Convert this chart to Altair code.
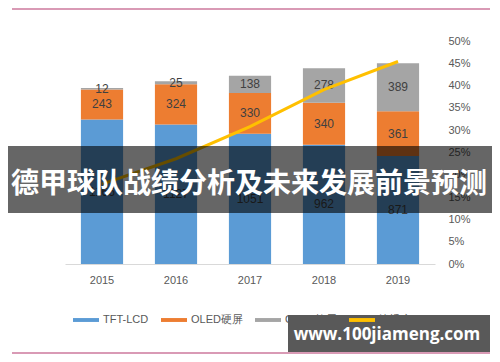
import altair as alt
import pandas as pd

years = ["2015", "2016", "2017", "2018", "2019"]
series = ["TFT-LCD", "OLED硬屏", "OLED软屏"]
tft_lcd = [1166, 1127, 1051, 962, 871]
oled_hard = [243, 324, 330, 340, 361]
oled_soft = [12, 25, 138, 278, 389]
penetration = [0.179, 0.236, 0.308, 0.391, 0.454]
line_name = "渗透率"
series_colors = ["#5b9bd5", "#ed7d31", "#a5a5a5", "#ffc000"]
left_ticks = list(range(0, 1801, 200))
right_ticks = [round(i * 0.05, 2) for i in range(11)]
banner_text = "德甲球队战绩分析及未来发展前景预测"
watermark_text = "www.100jiameng.com"

values = [tft_lcd, oled_hard, oled_soft]
rows = []
for i, yr in enumerate(years):
    base = 0
    for j, s in enumerate(series):
        v = values[j][i]
        rows.append({"year": yr, "series": s, "value": v, "start": base,
                     "end": base + v, "mid": base + v / 2, "order": j})
        base += v
bar_df = pd.DataFrame(rows)
line_df = pd.DataFrame({"year": years, "rate": penetration, "series": [line_name] * len(years)})

domain = series + [line_name]
color_scale = alt.Scale(domain=domain, range=series_colors)
legend = alt.Legend(
    title=None, orient="none", legendX=8, legendY=266, direction="horizontal",
    symbolType="M-1,-0.15H1V0.15H-1Z", symbolSize=676, symbolStrokeWidth=0,
    labelColor="#595959", labelFontSize=11, labelOffset=4, columnPadding=12,
)

x_enc = alt.X(
    "year:N", sort=years,
    scale=alt.Scale(paddingInner=0.43, paddingOuter=0.215),
    axis=alt.Axis(title=None, labelAngle=0, ticks=False, domainColor="#d9d9d9",
                  labelColor="#595959", labelFontSize=11, labelPadding=10),
)

y_left_scale = alt.Scale(domain=[0, 1800], nice=False)

bars = alt.Chart(bar_df).mark_bar().encode(
    x=x_enc,
    y=alt.Y("start:Q", scale=y_left_scale,
            axis=alt.Axis(title=None, values=left_ticks, grid=False, domain=False,
                          ticks=False, labelColor="#595959", labelFontSize=11,
                          labelPadding=13)),
    y2="end:Q",
    color=alt.Color("series:N", scale=color_scale, legend=legend),
    order=alt.Order("order:Q"),
)

labels = alt.Chart(bar_df).mark_text(fontSize=12, color="#404040", baseline="middle").encode(
    x=alt.X("year:N", sort=years),
    y=alt.Y("mid:Q", scale=y_left_scale, axis=None),
    text="value:Q",
)

line = alt.Chart(line_df).mark_line(strokeWidth=3).encode(
    x=alt.X("year:N", sort=years),
    y=alt.Y("rate:Q", scale=alt.Scale(domain=[0, 0.5], nice=False),
            axis=alt.Axis(title=None, orient="right", values=right_ticks, format=".0%",
                          grid=False, domain=False, ticks=False, labelColor="#595959",
                          labelFontSize=11, labelPadding=13)),
    color=alt.Color("series:N", scale=color_scale, legend=legend),
)

one = pd.DataFrame({"k": [0]})
band = alt.Chart(one).mark_rect(color="#000000", opacity=0.6).encode(
    x=alt.value(-60), x2=alt.value(428), y=alt.value(105), y2=alt.value(172))
band_label = alt.Chart(one).mark_text(
    text=banner_text, font="Noto Sans CJK SC", fontWeight="bold", fontSize=28,
    color="#ffffff", align="center", baseline="middle").encode(
    x=alt.value(184), y=alt.value(144))
wm_box = alt.Chart(one).mark_rect(color="#000000", opacity=0.65).encode(
    x=alt.value(223), x2=alt.value(425), y=alt.value(274), y2=alt.value(311))
wm_label = alt.Chart(one).mark_text(
    text=watermark_text, font="Open Sans", fontWeight="bold", fontSize=17,
    color="#ffffff", align="center", baseline="middle").encode(
    x=alt.value(322), y=alt.value(294))
top_rule = alt.Chart(one).mark_rule(color="#d99ab5", strokeWidth=2).encode(
    x=alt.value(-53), x2=alt.value(425), y=alt.value(-32))
bottom_rule = alt.Chart(one).mark_rule(color="#d99ab5", strokeWidth=2).encode(
    x=alt.value(-53), x2=alt.value(425), y=alt.value(312))

chart = alt.layer(
    alt.layer(bars, labels), line, band, band_label, wm_box, wm_label, top_rule, bottom_rule
).resolve_scale(y="independent").properties(
    width=370, height=223,
    autosize=alt.AutoSizeParams(type="none"),
    padding={"left": 57, "top": 33, "right": 57, "bottom": 90},
).configure(font="Liberation Sans").configure_view(stroke=None)

chart.save("out.html", embed_options={"renderer": "svg", "actions": False})
